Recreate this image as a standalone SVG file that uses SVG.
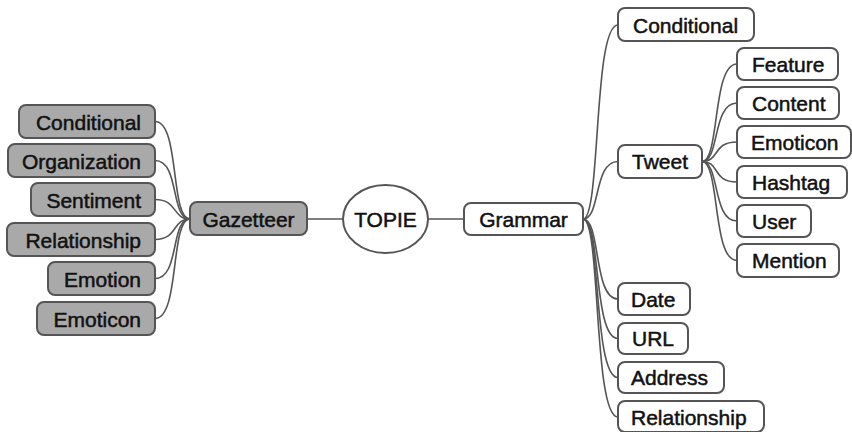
<svg xmlns="http://www.w3.org/2000/svg" width="852" height="432" viewBox="0 0 852 432">
<style>
.n rect{fill:#fff;stroke:#555;stroke-width:2}
.g rect{fill:#a9a9a9}
text{font-family:"Liberation Sans",Arial,sans-serif;font-size:21px;fill:#111;stroke:#111;stroke-width:0.5}
.r text{text-anchor:end}
.c text{text-anchor:middle}
#conn path,#conn line{fill:none;stroke:#555;stroke-width:1.6}
</style>
<rect width="852" height="432" fill="#fff"/>
<g id="conn">
<line x1="307" y1="219" x2="343" y2="219"/>
<line x1="428" y1="219" x2="464" y2="219"/>
<path d="M155,121.5 C180,121.5 170,219 190,219"/>
<path d="M155,160.5 C180,160.5 170,219 190,219"/>
<path d="M155,199.5 C178,199.5 172,219 190,219"/>
<path d="M155,239.5 C178,239.5 172,219 190,219"/>
<path d="M155,278.5 C180,278.5 170,219 190,219"/>
<path d="M155,318.5 C180,318.5 170,219 190,219"/>
<path d="M583,219 C601,219 593,25 618,25"/>
<path d="M583,219 C601,219 593,161.5 618,161.5"/>
<path d="M583,219 C601,219 593,299 618,299"/>
<path d="M583,219 C601,219 593,338.5 618,338.5"/>
<path d="M583,219 C601,219 593,377.5 618,377.5"/>
<path d="M583,219 C601,219 593,417 618,417"/>
<path d="M702,161.5 C720,161.5 712,64 737,64"/>
<path d="M702,161.5 C720,161.5 712,103 737,103"/>
<path d="M702,161.5 C720,161.5 712,142 737,142"/>
<path d="M702,161.5 C720,161.5 712,182 737,182"/>
<path d="M702,161.5 C720,161.5 712,221 737,221"/>
<path d="M702,161.5 C720,161.5 712,260.5 737,260.5"/>
</g>
<g id="l-conditional" class="n g r"><rect x="19" y="105" width="136" height="33" rx="7"/><text x="141" y="129.5">Conditional</text></g>
<g id="l-organization" class="n g r"><rect x="8" y="144" width="147" height="33" rx="7"/><text x="141" y="168.5">Organization</text></g>
<g id="l-sentiment" class="n g r"><rect x="31" y="183" width="124" height="33" rx="7"/><text x="141" y="207.5">Sentiment</text></g>
<g id="l-relationship" class="n g r"><rect x="7" y="223" width="148" height="33" rx="7"/><text x="141" y="247.5">Relationship</text></g>
<g id="l-emotion" class="n g r"><rect x="48" y="262" width="107" height="33" rx="7"/><text x="141" y="286.5">Emotion</text></g>
<g id="l-emoticon" class="n g r"><rect x="37" y="302" width="118" height="33" rx="7"/><text x="141" y="326.5">Emoticon</text></g>
<g id="gazetteer" class="n g c"><rect x="190" y="202" width="117" height="33" rx="7"/><text x="248.5" y="226.5">Gazetteer</text></g>
<g id="topie" class="c"><ellipse cx="385.5" cy="219" rx="42.5" ry="34" fill="#fff" stroke="#555" stroke-width="2"/><text x="385.5" y="226.5">TOPIE</text></g>
<g id="grammar" class="n c"><rect x="464" y="203" width="119" height="32" rx="7"/><text x="523.5" y="226.5">Grammar</text></g>
<g id="r-conditional" class="n"><rect x="618" y="8" width="136" height="33" rx="7"/><text x="633" y="32.5">Conditional</text></g>
<g id="tweet" class="n"><rect x="618" y="145" width="84" height="33" rx="7"/><text x="632" y="169">Tweet</text></g>
<g id="feature" class="n"><rect x="737" y="48" width="101" height="32" rx="7"/><text x="752" y="71.5">Feature</text></g>
<g id="content" class="n"><rect x="737" y="87" width="102" height="32" rx="7"/><text x="752" y="110.5">Content</text></g>
<g id="t-emoticon" class="n"><rect x="737" y="126" width="114" height="32" rx="7"/><text x="751" y="149.5">Emoticon</text></g>
<g id="hashtag" class="n"><rect x="737" y="166" width="110" height="32" rx="7"/><text x="752" y="189.5">Hashtag</text></g>
<g id="user" class="n"><rect x="737" y="205" width="74" height="32" rx="7"/><text x="752" y="228.5">User</text></g>
<g id="mention" class="n"><rect x="737" y="244" width="102" height="33" rx="7"/><text x="752" y="268">Mention</text></g>
<g id="date" class="n"><rect x="618" y="283" width="72" height="32" rx="7"/><text x="631" y="306.5">Date</text></g>
<g id="url" class="n"><rect x="618" y="323" width="70" height="31" rx="7"/><text x="632" y="346">URL</text></g>
<g id="address" class="n"><rect x="618" y="362" width="106" height="31" rx="7"/><text x="631" y="385">Address</text></g>
<g id="r-relationship" class="n"><rect x="618" y="401" width="146" height="31" rx="7"/><text x="631" y="424.5">Relationship</text></g>
</svg>
